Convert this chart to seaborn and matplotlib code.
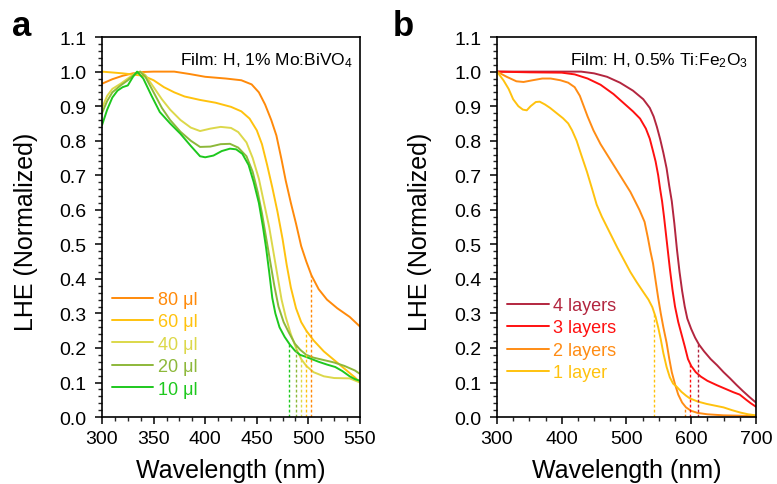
import matplotlib
matplotlib.use("Agg")
import matplotlib.pyplot as plt
from matplotlib.lines import Line2D
from matplotlib.ticker import AutoMinorLocator, MultipleLocator, FormatStrFormatter
import numpy as np
import pandas as pd
import seaborn as sns

### panel a: Mo:BiVO4 films, precursor volume
a_labels = ["80 μl", "60 μl", "40 μl", "20 μl", "10 μl"]
a_colors = ["#FF8A0A", "#FFC20E", "#DCD84A", "#8DB83A", "#1EC81E"]
a_edges = [503, 497.5, 492.5, 488, 481.5]

wl_80 = [300, 310, 320, 330, 340, 350, 370, 385, 400, 420, 435, 445, 452, 458, 464, 469, 474, 478, 483, 488, 493, 498, 503, 510, 518, 528, 540, 550]
lhe_80 = [0.965, 0.978, 0.988, 0.995, 0.999, 1.0, 1.0, 0.993, 0.985, 0.98, 0.975, 0.963, 0.94, 0.905, 0.86, 0.815, 0.745, 0.685, 0.62, 0.56, 0.495, 0.45, 0.41, 0.37, 0.34, 0.315, 0.29, 0.262]

wl_60 = [300, 320, 340, 350, 360, 370, 380, 395, 410, 425, 435, 443, 450, 455, 460, 465, 470, 475, 479, 483, 488, 493, 498, 505, 515, 525, 535, 545, 550]
lhe_60 = [1.0, 0.995, 0.988, 0.975, 0.955, 0.94, 0.928, 0.918, 0.91, 0.898, 0.885, 0.864, 0.83, 0.79, 0.73, 0.665, 0.595, 0.515, 0.44, 0.375, 0.315, 0.275, 0.25, 0.222, 0.19, 0.165, 0.14, 0.115, 0.10]

wl_40 = [300, 305, 310, 318, 325, 332, 337, 342, 350, 358, 366, 376, 386, 395, 405, 415, 425, 432, 440, 446, 452, 457, 462, 466, 470, 474, 478, 483, 488, 493, 498, 505, 515, 525, 540, 550]
lhe_40 = [0.895, 0.93, 0.95, 0.965, 0.98, 0.995, 1.0, 0.99, 0.955, 0.92, 0.89, 0.86, 0.838, 0.828, 0.835, 0.84, 0.837, 0.825, 0.795, 0.75, 0.69, 0.62, 0.55, 0.48, 0.41, 0.34, 0.29, 0.24, 0.2, 0.168, 0.148, 0.13, 0.118, 0.113, 0.112, 0.10]

wl_20 = [300, 305, 310, 318, 325, 332, 337, 342, 350, 358, 366, 376, 386, 395, 405, 415, 424, 432, 440, 446, 451, 455, 459, 463, 467, 471, 476, 481, 487, 492, 498, 505, 515, 525, 535, 545, 550]
lhe_20 = [0.88, 0.915, 0.94, 0.96, 0.975, 0.993, 1.0, 0.985, 0.94, 0.895, 0.86, 0.826, 0.8, 0.782, 0.783, 0.79, 0.791, 0.78, 0.755, 0.71, 0.65, 0.59, 0.52, 0.45, 0.38, 0.32, 0.275, 0.245, 0.212, 0.195, 0.18, 0.172, 0.165, 0.158, 0.148, 0.135, 0.125]

wl_10 = [300, 305, 310, 315, 320, 325, 330, 334, 340, 348, 356, 366, 376, 386, 395, 400, 408, 416, 424, 430, 436, 442, 447, 452, 456, 459, 462, 465, 468, 472, 477, 482, 487, 492, 497, 503, 510, 518, 526, 533, 540, 545, 550]
lhe_10 = [0.845, 0.89, 0.925, 0.945, 0.955, 0.96, 0.985, 1.0, 0.98, 0.93, 0.883, 0.85, 0.82, 0.785, 0.755, 0.752, 0.757, 0.77, 0.777, 0.775, 0.762, 0.73, 0.68, 0.62, 0.55, 0.49, 0.42, 0.345, 0.3, 0.26, 0.232, 0.21, 0.192, 0.18, 0.175, 0.168, 0.16, 0.152, 0.145, 0.133, 0.118, 0.11, 0.105]

### panel b: Ti:Fe2O3 films, number of layers
b_labels = ["4 layers", "3 layers", "2 layers", "1 layer"]
b_colors = ["#B3263F", "#FF1010", "#FF8C14", "#FFC20E"]
b_edges = [610, 598.5, 591, 542.5]

wl_4l = [300, 350, 400, 430, 450, 470, 490, 510, 526, 536, 542, 547, 552, 557, 562, 566, 570, 574, 578, 582, 586, 590, 594, 600, 606, 612, 620, 630, 640, 650, 660, 670, 680, 690, 700]
lhe_4l = [1.0, 1.0, 1.0, 1.0, 0.995, 0.985, 0.968, 0.945, 0.92, 0.895, 0.87, 0.84, 0.805, 0.765, 0.72, 0.67, 0.625, 0.56, 0.485, 0.42, 0.365, 0.32, 0.285, 0.255, 0.23, 0.21, 0.19, 0.168, 0.15, 0.13, 0.112, 0.093, 0.075, 0.058, 0.042]

wl_3l = [300, 350, 400, 420, 440, 460, 480, 495, 510, 521, 530, 536, 541, 545, 549, 552, 555, 558, 561, 564, 567, 571, 575, 580, 585, 590, 595, 600, 607, 615, 625, 640, 655, 665, 675, 685, 692, 700]
lhe_3l = [1.0, 0.998, 0.997, 0.992, 0.98, 0.962, 0.935, 0.91, 0.885, 0.864, 0.835, 0.806, 0.77, 0.74, 0.7, 0.66, 0.625, 0.58, 0.53, 0.48, 0.43, 0.37, 0.32, 0.275, 0.24, 0.205, 0.168, 0.148, 0.13, 0.117, 0.105, 0.092, 0.08, 0.072, 0.065, 0.05, 0.04, 0.03]

wl_2l = [300, 315, 330, 341, 355, 370, 383, 398, 410, 420, 428, 434, 440, 449, 460, 475, 490, 506, 520, 528, 533, 537, 541, 545, 549, 553, 557, 562, 566, 570, 575, 580, 586, 592, 600, 610, 625, 650, 675, 700]
lhe_2l = [1.0, 0.985, 0.972, 0.97, 0.975, 0.98, 0.98, 0.975, 0.968, 0.955, 0.93, 0.9, 0.87, 0.83, 0.79, 0.745, 0.7, 0.652, 0.6, 0.565, 0.52, 0.48, 0.445, 0.395, 0.345, 0.3, 0.26, 0.215, 0.17, 0.13, 0.095, 0.065, 0.042, 0.028, 0.018, 0.012, 0.008, 0.005, 0.004, 0.003]

wl_1l = [300, 310, 318, 325, 333, 340, 346, 352, 360, 366, 374, 382, 392, 402, 410, 416, 423, 430, 439, 447, 454, 462, 470, 478, 486, 496, 506, 516, 526, 534, 540, 545, 549, 553, 557, 562, 567, 572, 578, 585, 592, 598, 610, 624, 637, 650, 663, 676, 688, 700]
lhe_1l = [1.0, 0.975, 0.95, 0.92, 0.9, 0.89, 0.888, 0.9, 0.912, 0.913, 0.905, 0.895, 0.88, 0.865, 0.85, 0.83, 0.8, 0.76, 0.71, 0.66, 0.615, 0.58, 0.55, 0.52, 0.49, 0.455, 0.42, 0.39, 0.362, 0.34, 0.318, 0.29, 0.26, 0.225, 0.185, 0.145, 0.115, 0.097, 0.087, 0.073, 0.062, 0.054, 0.045, 0.038, 0.033, 0.028, 0.02, 0.013, 0.008, 0.005]


def to_long(wls, vals, labels):
    # one row per point, sample label as hue
    frames = []
    for w, v, lab in zip(wls, vals, labels):
        frames.append(pd.DataFrame({"wavelength": w, "lhe": v, "sample": lab}))
    return pd.concat(frames, ignore_index=True)


df_a = to_long([wl_80, wl_60, wl_40, wl_20, wl_10],
               [lhe_80, lhe_60, lhe_40, lhe_20, lhe_10], a_labels)
df_b = to_long([wl_4l, wl_3l, wl_2l, wl_1l],
               [lhe_4l, lhe_3l, lhe_2l, lhe_1l], b_labels)

sns.set_theme(style="ticks")
plt.rcParams["font.family"] = ["Liberation Sans", "DejaVu Sans"]
plt.rcParams["mathtext.fontset"] = "custom"
plt.rcParams["mathtext.rm"] = "Liberation Sans"
plt.rcParams["mathtext.default"] = "regular"
plt.rcParams["axes.linewidth"] = 1.2
plt.rcParams["axes.edgecolor"] = "black"
plt.rcParams["axes.labelcolor"] = "black"
plt.rcParams["text.color"] = "black"

fig = plt.figure(figsize=(7.77, 4.85), dpi=100)
ax_a = fig.add_axes([0.1313, 0.138, 0.332, 0.7835])
ax_b = fig.add_axes([0.6396, 0.138, 0.3333, 0.7835])


def draw_panel(ax, df, labels, colors, edges, xlim, xstep, note, leg_xy):
    sns.lineplot(data=df, x="wavelength", y="lhe", hue="sample",
                 hue_order=labels, palette=colors, sort=False,
                 estimator=None, linewidth=1.4, legend=False, ax=ax)
    # dotted absorption-edge markers, up to the curve
    for lab, col, x0 in zip(labels, colors, edges):
        sub = df[df["sample"] == lab]
        top = np.interp(x0, sub["wavelength"], sub["lhe"])
        ax.vlines(x0, 0, top, colors=col, linestyles=(0, (2, 1.6)), linewidth=1.0)
    ax.set_xlim(*xlim)
    ax.set_ylim(0, 1.1)
    ax.xaxis.set_major_locator(MultipleLocator(xstep))
    ax.xaxis.set_minor_locator(AutoMinorLocator(4))
    ax.yaxis.set_major_locator(MultipleLocator(0.1))
    ax.yaxis.set_minor_locator(AutoMinorLocator(5))
    ax.yaxis.set_major_formatter(FormatStrFormatter("%.1f"))
    ax.tick_params(which="major", direction="out", length=5, width=1.1,
                   labelsize=14, colors="black")
    ax.tick_params(axis="y", which="major", pad=6)
    ax.tick_params(axis="x", which="major", pad=4)
    ax.tick_params(which="minor", direction="out", length=2.8, width=1.0)
    ax.set_xlabel("Wavelength (nm)", fontsize=18)
    ax.set_ylabel("LHE (Normalized)", fontsize=18)
    ax.xaxis.set_label_coords(0.5, -0.107)
    ax.yaxis.set_label_coords(-0.25, 0.49)
    for s in ax.spines.values():
        s.set_visible(True)
        s.set_linewidth(1.2)
    ax.text(0.97, 0.965, note, transform=ax.transAxes, ha="right", va="top",
            fontsize=12.5)
    handles = [Line2D([], [], color=c, lw=1.4) for c in colors]
    ax.legend(handles, labels, loc="upper left", bbox_to_anchor=leg_xy,
              frameon=False, fontsize=13, handlelength=2.3, handletextpad=0.25,
              labelspacing=0.3, labelcolor=colors, borderpad=0, borderaxespad=0)


draw_panel(ax_a, df_a, a_labels, a_colors, a_edges, (300, 550), 50,
           "Film: H, 1% Mo:BiVO$_4$", (0.038, 0.332))
draw_panel(ax_b, df_b, b_labels, b_colors, b_edges, (300, 700), 100,
           "Film: H, 0.5% Ti:Fe$_2$O$_3$", (0.04, 0.316))

fig.text(0.015, 0.925, "a", fontsize=25, fontweight="bold", va="baseline")
fig.text(0.506, 0.925, "b", fontsize=25, fontweight="bold", va="baseline")

fig.savefig("out.png", dpi=100)
